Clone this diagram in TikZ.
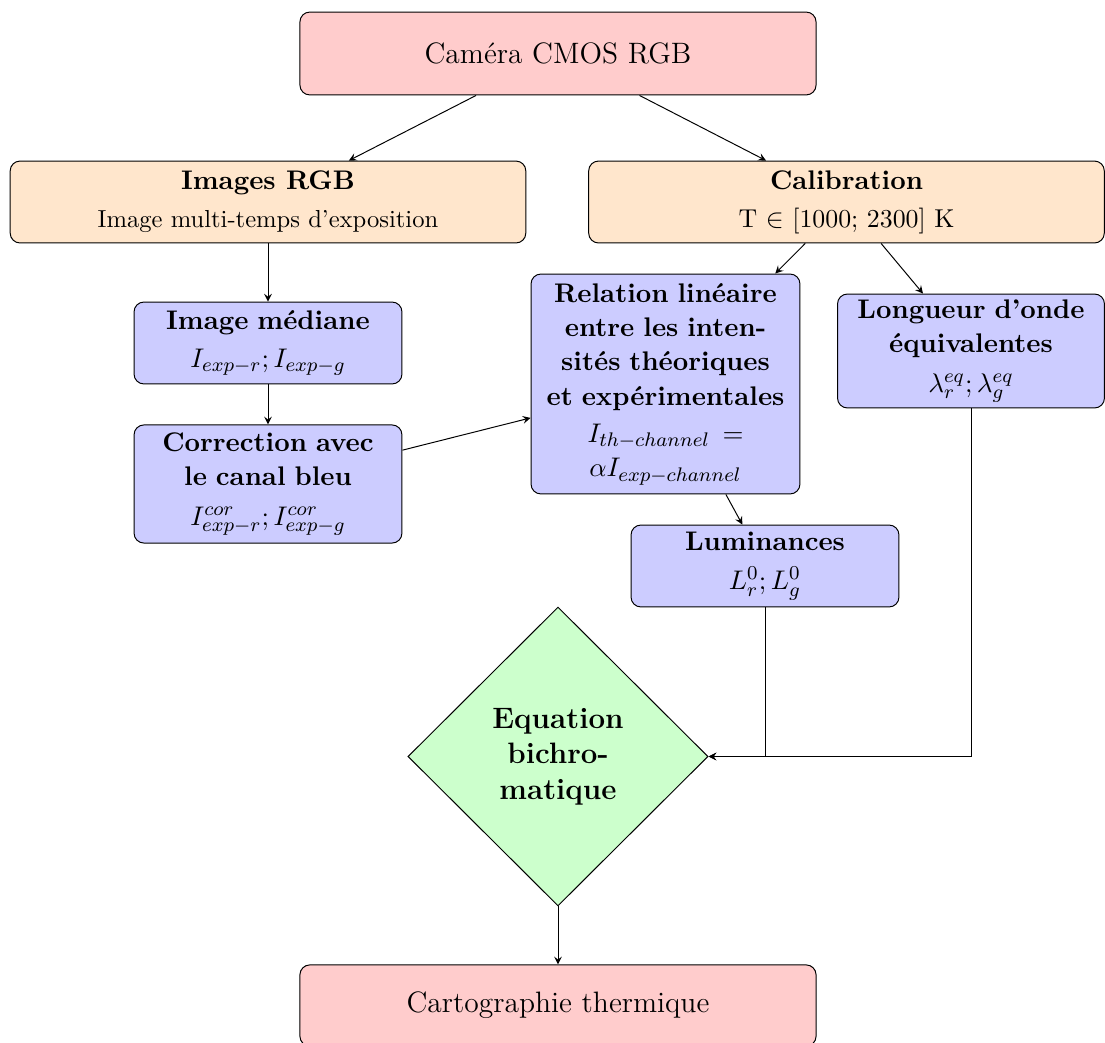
\documentclass[tikz,border=0pt]{standalone}
\usetikzlibrary{shapes.geometric,arrows}
\definecolor{pinkbox}{RGB}{255,204,204}
\definecolor{orangebox}{RGB}{255,230,204}
\definecolor{bluebox}{RGB}{204,204,255}
\definecolor{greenbox}{RGB}{204,255,204}
\newcommand{\hdfont}{\fontsize{10.95}{14}\selectfont}
\newcommand{\subfont}{\fontsize{10}{12}\selectfont}
\begin{document}
\begin{tikzpicture}[x=0.4065pt,y=-0.4065pt,
  boxbase/.style={draw=black, rounded corners=4pt, align=center, inner sep=2pt},
  titlebox/.style={boxbase, fill=pinkbox, minimum width=209.8pt, minimum height=33.7pt, font=\fontsize{12}{14.5}\selectfont},
  inbox/.style={boxbase, fill=orangebox, minimum width=209.6pt, minimum height=33.3pt, font=\hdfont},
  procbox/.style={boxbase, fill=bluebox, text width=102pt, minimum width=108.9pt, font=\hdfont},
  decbox/.style={draw=black, fill=greenbox, shape=diamond, aspect=1, minimum width=122pt, minimum height=121.5pt, align=center, inner sep=0pt, font=\fontsize{12}{14.5}\selectfont\bfseries},
  arr/.style={->, >=stealth, draw=black}
]
\useasboundingbox (0,0) rectangle (1105,1043);

\node[titlebox] (cam) at (558,53.5) {Caméra CMOS RGB};
\node[inbox] (img) at (268,202) {\textbf{Images RGB}\\[1.5pt]{\subfont Image multi-temps d'exposition}};
\node[inbox] (cal) at (846.5,202) {\textbf{Calibration}\\[1.5pt]{\fontsize{10.5}{12.6}\selectfont T $\in$ [1000; 2300] K}};
\node[procbox, minimum height=33.3pt] (med) at (268,343) {\textbf{Image médiane}\\[1.5pt]$I_{exp-r};I_{exp-g}$};
\node[procbox, minimum height=48pt] (cor) at (268,484) {\textbf{Correction avec}\\\textbf{le canal bleu}\\[2pt]$I_{exp-r}^{cor};I_{exp-g}^{cor}$};
\node[procbox, minimum height=89.4pt, minimum width=109.3pt] (rel) at (665.5,384) {\textbf{Relation linéaire}\\\textbf{entre les inten-}\\\textbf{sités théoriques}\\\textbf{et expérimentales}\\[1pt]$I_{th-channel}$\hspace{5pt}$=$\\$\alpha I_{exp-channel}$};
\node[procbox, minimum height=46.3pt, minimum width=108.5pt] (lon) at (971,351) {\textbf{Longueur d'onde}\\\textbf{équivalentes}\\[2pt]$\lambda_r^{eq};\lambda_g^{eq}$};
\node[procbox, minimum height=33.3pt] (lum) at (765,566) {\textbf{Luminances}\\[2pt]$L_r^0;L_g^0$};
\node[decbox] (eq) at (558,756.5) {Equation\\bichro-\\matique};
\node[titlebox, minimum height=33pt] (carto) at (558,1005.5) {Cartographie thermique};

\draw[arr] (cam) -- (img);
\draw[arr] (cam) -- (cal);
\draw[arr] (img) -- (med);
\draw[arr] (med) -- (cor);
\draw[arr] (cor) -- (rel);
\draw[arr] (cal) -- (rel);
\draw[arr] (cal) -- (lon);
\draw[arr] (rel) -- (lum);
\draw[arr] (lum) |- (eq);
\draw[arr] (lon) |- (eq);
\draw[arr] (eq) -- (carto);
\end{tikzpicture}
\end{document}
